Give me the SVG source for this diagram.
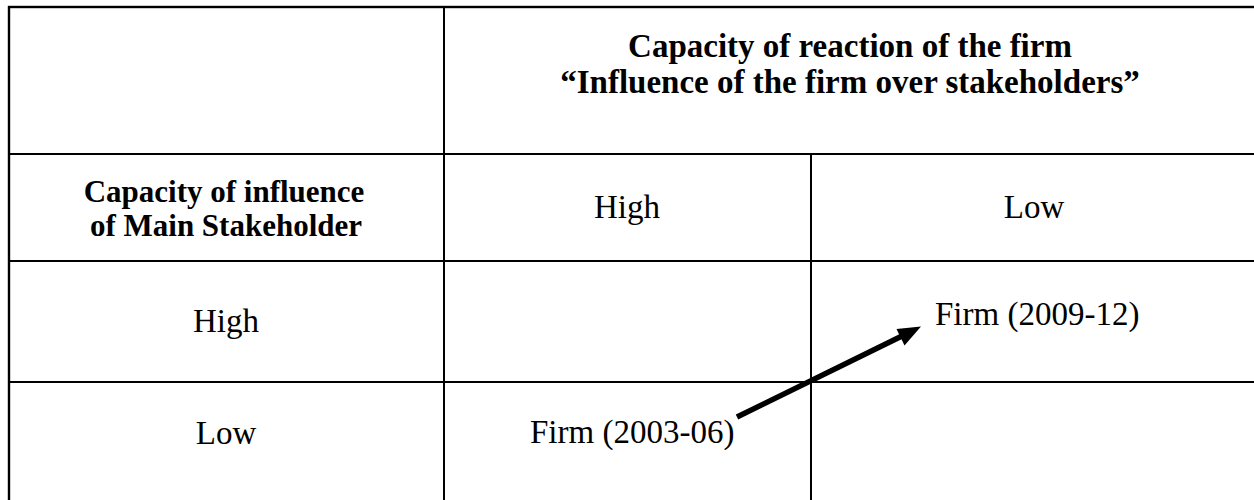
<svg xmlns="http://www.w3.org/2000/svg" width="1254" height="500" viewBox="0 0 1254 500">
  <style>
    .grid { stroke: #000; stroke-width: 2; fill: none; }
    .frame { stroke: #000; stroke-width: 2.4; fill: none; }
    .hd { font-family: "Liberation Serif", "Times New Roman", serif; font-weight: bold; font-size: 33px; fill: #000; text-anchor: middle; }
    .rh { font-size: 31px; }
    .tx { font-family: "Liberation Serif", "Times New Roman", serif; font-size: 33px; fill: #000; }
    .mid { text-anchor: middle; }
  </style>
  <rect width="1254" height="500" fill="#fff"/>

  <!-- table grid -->
  <g id="grid">
    <rect class="frame" x="9" y="7" width="1248" height="497"/>
    <line class="grid" x1="9" y1="154" x2="1257" y2="154"/>
    <line class="grid" x1="9" y1="261" x2="1257" y2="261"/>
    <line class="grid" x1="9" y1="382" x2="1257" y2="382"/>
    <line class="grid" x1="444" y1="7" x2="444" y2="504"/>
    <line class="grid" x1="811" y1="154" x2="811" y2="504"/>
  </g>

  <!-- column header -->
  <g id="header-reaction">
    <text class="hd" x="850" y="57">Capacity of reaction of the firm</text>
    <text class="hd" x="850" y="93">“Influence of the firm over stakeholders”</text>
  </g>

  <!-- row header -->
  <g id="header-influence">
    <text class="hd rh" x="224" y="202">Capacity of influence</text>
    <text class="hd rh" x="226" y="236">of Main Stakeholder</text>
  </g>

  <g id="col-high"><text class="tx mid" x="627" y="218">High</text></g>
  <g id="col-low"><text class="tx mid" x="1034" y="218">Low</text></g>
  <g id="row-high"><text class="tx mid" x="226" y="332">High</text></g>
  <g id="row-low"><text class="tx mid" x="226" y="444">Low</text></g>

  <g id="firm-2009"><text class="tx" x="935" y="325">Firm (2009-12)</text></g>
  <g id="firm-2003"><text class="tx" x="530" y="443">Firm (2003-06)</text></g>

  <!-- movement between periods -->
  <g id="connectors">
    <line x1="737" y1="417" x2="902" y2="336" stroke="#000" stroke-width="5.5"/>
    <polygon points="921,326.5 904.5,345.5 896.5,329" fill="#000"/>
  </g>
</svg>
